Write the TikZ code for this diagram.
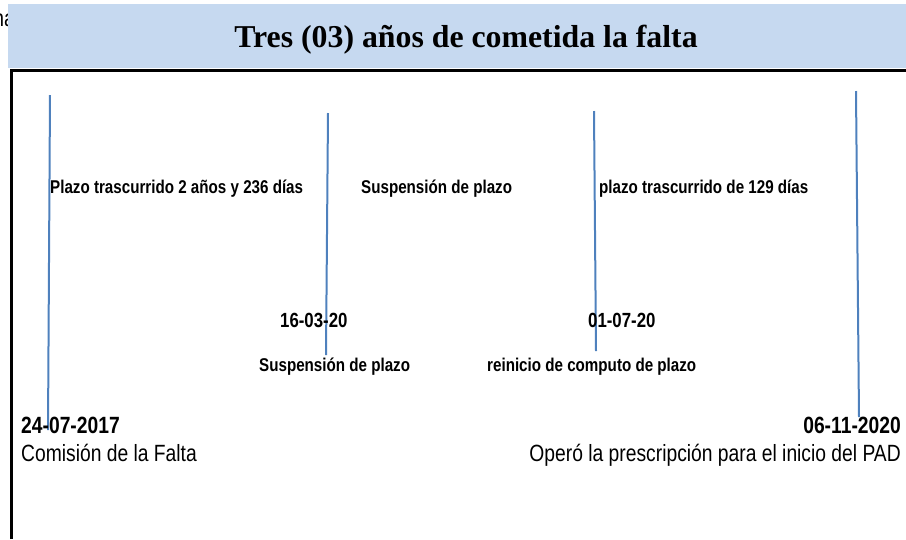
\documentclass[tikz,border=0pt]{standalone}
\usepackage{fontspec}
\setmainfont{Liberation Serif}
\newfontfamily\nsans[FakeStretch=0.82]{Liberation Sans}
\definecolor{bandblue}{HTML}{C6D9F0}
\definecolor{tickblue}{HTML}{4F81BD}
\begin{document}
\begin{tikzpicture}[x=1pt,y=-1pt,
  lbl/.style={font=\nsans\bfseries\fontsize{18.5}{20}\selectfont, inner sep=0, anchor=base west},
  datelbl/.style={font=\nsans\bfseries\fontsize{20.5}{22}\selectfont, inner sep=0, anchor=base west},
  bigdate/.style={font=\nsans\bfseries\fontsize{23.5}{25}\selectfont, inner sep=0},
  bigtxt/.style={font=\nsans\fontsize{23.5}{25}\selectfont, inner sep=0},
  tickline/.style={draw=tickblue, line width=2pt},
  frameline/.style={draw=black, line width=3pt}]
\useasboundingbox (0,0) rectangle (906,539);
% clipped text behind the band
\node[bigtxt, anchor=base east] (cut) at (15,26) {na};
% title band
\fill[bandblue] (8,4) rectangle (906,68);
\node[font=\bfseries\fontsize{31.8}{34}\selectfont, inner sep=0, anchor=base] (title) at (466,47) {Tres (03) años de cometida la falta};
% frame
\coordinate (fl) at (11,539);
\coordinate (fc) at (11,70);
\coordinate (fr) at (906,70);
\draw[frameline] (fl) -- (fc) -- (fr);
% vertical markers
\coordinate (a1) at (50,95);  \coordinate (a2) at (48,430);
\coordinate (b1) at (328,113); \coordinate (b2) at (326,355);
\coordinate (c1) at (594,111); \coordinate (c2) at (596,351);
\coordinate (d1) at (856,91);  \coordinate (d2) at (859,417);
\draw[tickline] (a1) -- (a2);
\draw[tickline] (b1) -- (b2);
\draw[tickline] (c1) -- (c2);
\draw[tickline] (d1) -- (d2);
% period labels
\node[lbl] (p1) at (50,193) {Plazo trascurrido 2 años y 236 días};
\node[lbl] (p2) at (361,193) {Suspensión de plazo};
\node[lbl] (p3) at (599,193) {plazo trascurrido de 129 días};
% intermediate dates
\node[datelbl] (d16) at (280,327) {16-03-20};
\node[datelbl] (d01) at (588,327) {01-07-20};
\node[lbl] (s16) at (259,371) {Suspensión de plazo};
\node[lbl] (s01) at (487,371) {reinicio de computo de plazo};
% end dates
\node[bigdate, anchor=base west] (start) at (21,433) {24-07-2017};
\node[bigtxt, anchor=base west] (startt) at (21,461) {Comisión de la Falta};
\node[bigdate, anchor=base east] (end) at (901,433) {06-11-2020};
\node[bigtxt, anchor=base east] (endt) at (901,461) {Operó la prescripción para el inicio del PAD};
\end{tikzpicture}
\end{document}
